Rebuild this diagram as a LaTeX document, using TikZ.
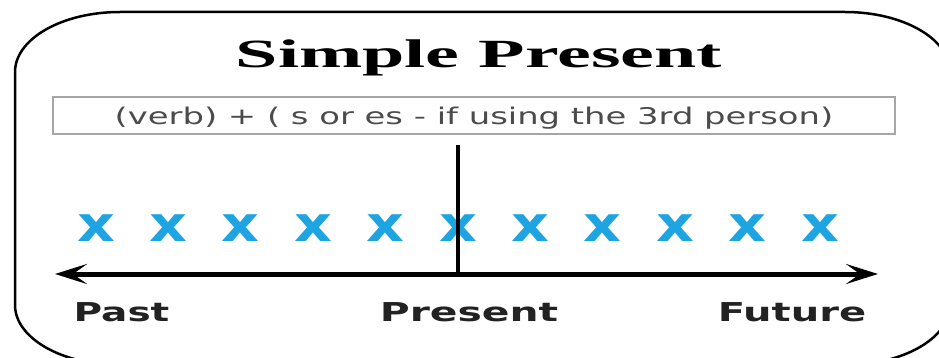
\documentclass[tikz,border=0pt]{standalone}
\usepackage{fontspec}
\setmainfont{Liberation Serif}
\setsansfont{DejaVu Sans}
\usepackage{graphicx}
\usetikzlibrary{arrows.meta}

\definecolor{crossblue}{RGB}{30,165,225}
\definecolor{boxtext}{RGB}{75,75,75}
\definecolor{labeltext}{RGB}{34,34,34}
\newcommand{\widen}[2]{\scalebox{#1}[1]{#2}}

\begin{document}
\begin{tikzpicture}[x=1pt, y=-1pt,
    >={Stealth[length=32pt, width=20pt, inset=14pt]},
    heading/.style={font=\bfseries\fontsize{40}{40}\selectfont, inner sep=0pt, anchor=base},
    rulebox/.style={draw=gray!70, line width=1.5pt, minimum width=842pt, minimum height=37pt,
        inner sep=0pt, text depth=0pt, text=boxtext, font=\sffamily\fontsize{23}{23}\selectfont},
    cross/.style={text=crossblue, font=\sffamily\bfseries\fontsize{49}{49}\selectfont, inner sep=0pt},
    when/.style={text=labeltext, font=\sffamily\bfseries\fontsize{26}{26}\selectfont, inner sep=0pt, anchor=base},
    timeline/.style={line width=5pt, <->}]

    \useasboundingbox (0,0) rectangle (939,358);
    \clip (0,0) rectangle (939,358);

    % frame
    \draw[line width=2.5pt] (15,72) arc[start angle=180, end angle=270, x radius=105, y radius=60]
        -- (845,12) arc[start angle=270, end angle=360, x radius=105, y radius=60]
        -- (950,305) arc[start angle=0, end angle=90, x radius=105, y radius=60]
        -- (120,365) arc[start angle=90, end angle=180, x radius=105, y radius=60] -- cycle;

    \node[heading] (title) at (479,68) {\widen{1.9}{Simple Present}};
    \node[rulebox] (rule) at (474,115.5) {\widen{1.47}{(verb) + ( s or es - if using the 3rd person)}};

    % the repeated actions
    \foreach \i in {0,...,10}
        \node[cross] (x\i) at ({96+72.4*\i},228) {\widen{1.2}{x}};

    \coordinate (pastend) at (55,274);
    \coordinate (futureend) at (878,274);
    \coordinate (nowtop) at (458,145);
    \draw[timeline] (pastend) -- (futureend);
    \draw[line width=3.5pt] (nowtop) -- (nowtop |- pastend);

    \node[when] (past) at (121.5,321) {\widen{1.5}{Past}};
    \node[when] (present) at (469,321) {\widen{1.57}{Present}};
    \node[when] (future) at (792,321) {\widen{1.54}{Future}};
\end{tikzpicture}
\end{document}
